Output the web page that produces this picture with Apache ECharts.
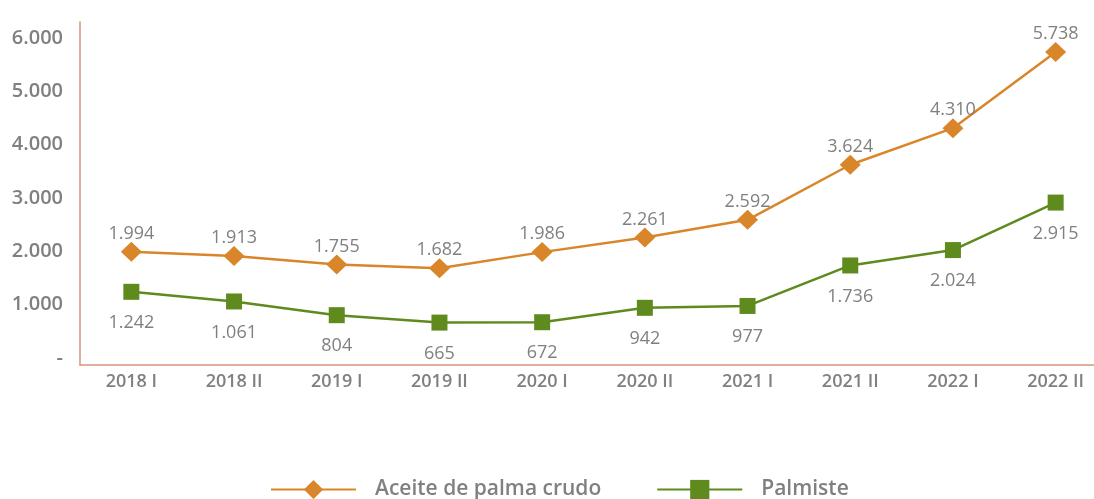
<!DOCTYPE html>
<html>
<head>
<meta charset="utf-8">
<script src="https://cdn.jsdelivr.net/npm/echarts@6/dist/echarts.min.js"></script>
<style>
  html, body { margin: 0; padding: 0; background: #fff; }
  #chart { width: 1094px; height: 499px; }
</style>
</head>
<body>
<div id="chart"></div>
<script>
var periodos = ['2018 I', '2018 II', '2019 I', '2019 II', '2020 I', '2020 II', '2021 I', '2021 II', '2022 I', '2022 II'];
var aceite = [1994, 1913, 1755, 1682, 1986, 2261, 2592, 3624, 4310, 5738];
var palmiste = [1242, 1061, 804, 665, 672, 942, 977, 1736, 2024, 2915];
var ticksY = [0, 1000, 2000, 3000, 4000, 5000, 6000];

var myChart = echarts.init(document.getElementById('chart'));

// numero con punto de miles
function fmt(v) {
	if (v === 0) return '-';
	return String(v).replace(/\B(?=(\d{3})+(?!\d))/g, '.');
}

var gris = '#808080';
var fuente = '"Open Sans", "Noto Sans", sans-serif';

option = {
	color: ['#d9862a', '#5e8a1e'],
	textStyle: { fontFamily: fuente },
	grid: {
		left: 80,
		right: -13,
		top: 22,
		bottom: 134,
		outerBoundsMode: 'none'
	},
	legend: {
		top: 474,
		left: 265,
		itemWidth: 85,
		itemHeight: 24,
		itemGap: 55,
		textStyle: { color: gris, fontSize: 21, fontWeight: 600, fontFamily: fuente, padding: [0, 0, 0, 14] },
		data: ['Aceite de palma crudo', 'Palmiste']
	},
	xAxis: {
		type: 'category',
		boundaryGap: true,
		data: periodos,
		axisLine: { onZero: false, lineStyle: { color: '#d9957c', width: 1.5 } },
		axisTick: { show: false },
		axisLabel: { color: gris, fontSize: 18, fontWeight: 600, margin: 8 }
	},
	yAxis: {
		type: 'value',
		min: -130,
		max: 6300,
		axisLine: { show: true, lineStyle: { color: '#d9957c', width: 1.5 } },
		axisTick: { show: false },
		splitLine: { show: false },
		axisLabel: {
			customValues: ticksY,
			color: gris,
			fontSize: 20,
			fontWeight: 600,
			margin: 17,
			formatter: function (v) { return fmt(v); }
		}
	},
	series: [{
		name: 'Aceite de palma crudo',
		type: 'line',
		symbol: 'diamond',
		symbolSize: [21, 20],
		lineStyle: { width: 2.5 },
		label: {
			show: true,
			position: 'top',
			distance: -1,
			color: gris,
			fontSize: 18,
			formatter: function (p) { return fmt(p.value); }
		},
		data: aceite
	}, {
		name: 'Palmiste',
		type: 'line',
		symbol: 'rect',
		symbolSize: 16,
		lineStyle: { width: 2.5 },
		label: {
			show: true,
			position: 'bottom',
			distance: 14,
			color: gris,
			fontSize: 18,
			formatter: function (p) { return fmt(p.value); }
		},
		data: palmiste
	}]
};

myChart.setOption(option);
</script>
</body>
</html>
